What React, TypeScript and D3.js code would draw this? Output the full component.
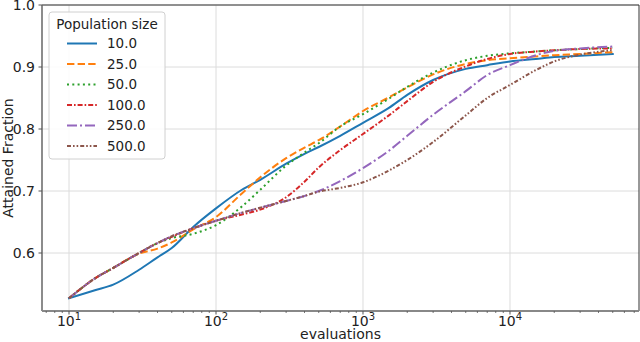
import React from "react";
import * as d3 from "d3";

const evaluations = [10, 15, 20, 30, 40, 50, 70, 100, 150, 200, 300, 400, 500, 700, 1000, 1500, 2000, 3000, 5000, 7000, 10000, 15000, 20000, 30000, 50000];
const pop10 = [0.527, 0.540, 0.549, 0.573, 0.593, 0.608, 0.642, 0.672, 0.702, 0.718, 0.744, 0.760, 0.771, 0.789, 0.810, 0.834, 0.855, 0.879, 0.897, 0.903, 0.909, 0.913, 0.916, 0.918, 0.921];
const pop25 = [0.527, 0.559, 0.576, 0.599, 0.607, 0.617, 0.638, 0.658, 0.696, 0.722, 0.753, 0.770, 0.782, 0.804, 0.829, 0.851, 0.867, 0.888, 0.905, 0.911, 0.914, 0.917, 0.919, 0.921, 0.924];
const pop50 = [0.527, 0.559, 0.576, 0.600, 0.616, 0.624, 0.631, 0.645, 0.675, 0.702, 0.741, 0.762, 0.777, 0.804, 0.824, 0.849, 0.868, 0.891, 0.911, 0.918, 0.922, 0.925, 0.927, 0.929, 0.931];
const pop100 = [0.527, 0.559, 0.576, 0.600, 0.616, 0.626, 0.640, 0.652, 0.662, 0.670, 0.690, 0.715, 0.738, 0.766, 0.792, 0.822, 0.845, 0.876, 0.901, 0.913, 0.921, 0.925, 0.927, 0.929, 0.930];
const pop250 = [0.527, 0.559, 0.576, 0.600, 0.616, 0.627, 0.640, 0.652, 0.665, 0.673, 0.684, 0.692, 0.700, 0.716, 0.737, 0.765, 0.789, 0.823, 0.861, 0.887, 0.903, 0.919, 0.926, 0.930, 0.933];
const pop500 = [0.527, 0.559, 0.576, 0.600, 0.616, 0.627, 0.640, 0.652, 0.665, 0.673, 0.684, 0.692, 0.699, 0.705, 0.714, 0.733, 0.750, 0.779, 0.822, 0.850, 0.871, 0.895, 0.909, 0.920, 0.927];
const seriesValues = [pop10, pop25, pop50, pop100, pop250, pop500];
const seriesLabels = ["10.0", "25.0", "50.0", "100.0", "250.0", "500.0"];
const seriesColors = ["#1f77b4", "#ff7f0e", "#2ca02c", "#d62728", "#9467bd", "#8c564b"];
const seriesDashes = ["", "7.4,3.2", "2,3.3", "5,2,1.6,2", "10,3,2,3", "4,2,1.6,2,1.6,2"];
const yTicks = [0.6, 0.7, 0.8, 0.9, 1.0];
const xTickExps = [1, 2, 3, 4];

const W = 640, H = 342;
const L = 42, R = 639, T = 5, B = 311;
const FONT = "DejaVu Sans, sans-serif";

export default function App() {
  const x = d3.scaleLog().domain([Math.pow(10, 0.8163), Math.pow(10, 4.8776)]).range([L, R]);
  const y = d3.scaleLinear().domain([1 - (B - T) / 620, 1.0]).range([B, T]);
  const line = d3.line<number>()
    .x((_, i) => x(evaluations[i]))
    .y((d) => y(d))
    .curve(d3.curveMonotoneX);

  const minor: number[] = [];
  for (let e = 0; e <= 4; e++) {
    for (let m = 2; m <= 9; m++) {
      const v = m * Math.pow(10, e);
      const [d0, d1] = x.domain();
      if (v >= d0 && v <= d1) minor.push(v);
    }
  }

  const legX = 49, legY = 12, legW = 116, legH = 147;

  return (
    <svg width={W} height={H} style={{ position: "absolute", left: 0, top: 0 }} fontFamily={FONT}>
      <rect x={0} y={0} width={W} height={H} fill="#fff" />
      <defs>
        <clipPath id="plotclip">
          <rect x={L} y={T} width={R - L} height={B - T} />
        </clipPath>
      </defs>
      {/* grid */}
      {xTickExps.map((e) => (
        <line key={"gx" + e} x1={x(Math.pow(10, e))} x2={x(Math.pow(10, e))} y1={T} y2={B} stroke="#dcdcdc" strokeWidth={1} />
      ))}
      {yTicks.map((t) => (
        <line key={"gy" + t} x1={L} x2={R} y1={y(t)} y2={y(t)} stroke="#dcdcdc" strokeWidth={1} />
      ))}
      {/* lines */}
      <g clipPath="url(#plotclip)">
        {seriesValues.map((vals, i) => (
          <path key={i} d={line(vals) || ""} fill="none" stroke={seriesColors[i]} strokeWidth={2}
            strokeDasharray={seriesDashes[i] || undefined} strokeLinecap={i === 0 ? "square" : "butt"} />
        ))}
      </g>
      {/* spines */}
      <line x1={L} x2={R} y1={T} y2={T} stroke="#333" strokeWidth={1} />
      <line x1={R} x2={R} y1={T} y2={B} stroke="#333" strokeWidth={1} />
      <line x1={L} x2={L} y1={T} y2={B} stroke="#666" strokeWidth={1.5} />
      <line x1={L} x2={R} y1={B} y2={B} stroke="#888" strokeWidth={2} />
      {/* x ticks */}
      {minor.map((v) => (
        <line key={"mt" + v} x1={x(v)} x2={x(v)} y1={B} y2={B + 2} stroke="#555" strokeWidth={0.8} />
      ))}
      {xTickExps.map((e) => (
        <g key={"xt" + e}>
          <line x1={x(Math.pow(10, e))} x2={x(Math.pow(10, e))} y1={B} y2={B + 3.5} stroke="#555" strokeWidth={1} />
          <text x={x(Math.pow(10, e))} y={326} textAnchor="middle" fontSize={14} fill="#222">
            10<tspan dy={-6} fontSize={10}>{e}</tspan>
          </text>
        </g>
      ))}
      {/* y ticks */}
      {yTicks.map((t) => (
        <g key={"yt" + t}>
          <line x1={L - 3.5} x2={L} y1={y(t)} y2={y(t)} stroke="#555" strokeWidth={1} />
          <text x={L - 7} y={y(t)} dy="0.36em" textAnchor="end" fontSize={14} fill="#222">{t.toFixed(1)}</text>
        </g>
      ))}
      {/* axis labels */}
      <text x={(L + R) / 2} y={339} textAnchor="middle" fontSize={14} fill="#222">evaluations</text>
      <text transform={`translate(12.5,${(T + B) / 2}) rotate(-90)`} textAnchor="middle" fontSize={14} fill="#222">Attained Fraction</text>
      {/* legend */}
      <rect x={legX} y={legY} width={legW} height={legH} rx={3} fill="#fff" fillOpacity={0.85} stroke="#d0d0d0" strokeWidth={1} />
      <text x={legX + legW / 2} y={28.5} textAnchor="middle" fontSize={13.5} fill="#222">Population size</text>
      {seriesLabels.map((lab, i) => {
        const ly = 43.5 + i * 20.5;
        return (
          <g key={"lg" + i}>
            <line x1={67} x2={97} y1={ly} y2={ly} stroke={seriesColors[i]} strokeWidth={2}
              strokeDasharray={seriesDashes[i] || undefined} />
            <text x={107} y={ly} dy="0.36em" fontSize={13.5} fill="#222">{lab}</text>
          </g>
        );
      })}
    </svg>
  );
}
